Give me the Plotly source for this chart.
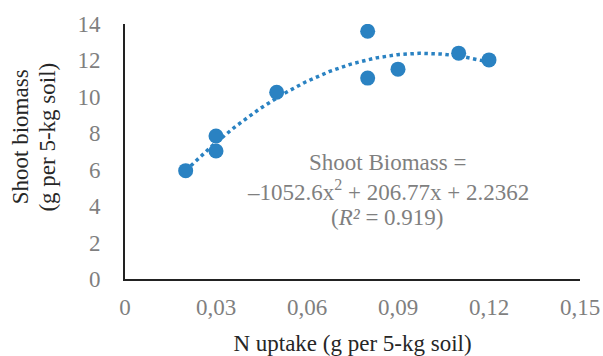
import numpy as np
import plotly.graph_objects as go

# Data
n_uptake = [0.02, 0.03, 0.03, 0.05, 0.08, 0.08, 0.09, 0.11, 0.12]
shoot_biomass = [5.95, 7.85, 7.03, 10.25, 13.6, 11.03, 11.52, 12.4, 12.03]

# Trendline coefficients (as printed on chart)
coef_a, coef_b, coef_c = -1052.6, 206.77, 2.2362

x_tickvals = [0, 0.03, 0.06, 0.09, 0.12, 0.15]
x_ticktext = ["0", "0,03", "0,06", "0,09", "0,12", "0,15"]
y_tickvals = [0, 2, 4, 6, 8, 10, 12, 14]

eq_lines = ["Shoot Biomass =",
            "–1052.6x<sup>2</sup> + 206.77x + 2.2362",
            "(<i>R²</i> = 0.919)"]
y_title_lines = ["Shoot biomass", "(g per 5-kg soil)"]

blue = "#2A82C2"
gray = "#7F7F7F"
dark = "#262626"
font_family = "Liberation Serif, Times New Roman, serif"

tx = np.linspace(min(n_uptake), max(n_uptake), 200)
ty = coef_a * tx**2 + coef_b * tx + coef_c

fig = go.Figure()
fig.add_trace(go.Scatter(x=tx, y=ty, mode="lines",
                         line=dict(color=blue, width=3.5, dash="dot"),
                         hoverinfo="skip", showlegend=False))
fig.add_trace(go.Scatter(x=n_uptake, y=shoot_biomass, mode="markers",
                         marker=dict(color=blue, size=15),
                         showlegend=False))

for txt, yy in zip(eq_lines, [6.37, 4.88, 3.40]):
    fig.add_annotation(x=0.0867, y=yy, xref="x", yref="y", text=txt,
                       showarrow=False, xanchor="center", yanchor="middle",
                       font=dict(family=font_family, size=23, color=gray))

for txt, xx in zip(y_title_lines, [-0.228, -0.170]):
    fig.add_annotation(x=xx, y=0.557, xref="paper", yref="paper", text=txt,
                       showarrow=False, textangle=-90,
                       xanchor="center", yanchor="middle",
                       font=dict(family=font_family, size=23, color=dark))

fig.update_layout(
    width=603, height=356,
    margin=dict(l=125, r=23, t=24, b=77),
    paper_bgcolor="white", plot_bgcolor="white",
    font=dict(family=font_family, color=gray, size=23),
    xaxis=dict(
        range=[0, 0.15], tickvals=x_tickvals, ticktext=x_ticktext,
        showgrid=False, zeroline=False, showline=True, automargin=False,
        linecolor="#222222", linewidth=2, ticks="", ticklabelstandoff=6,
        tickfont=dict(size=23, color=gray),
        title=dict(text="N uptake (g per 5-kg soil)",
                   font=dict(size=23, color=dark), standoff=20),
    ),
    yaxis=dict(
        range=[0, 14], tickvals=y_tickvals,
        showgrid=False, zeroline=False, showline=True, automargin=False,
        linecolor="#222222", linewidth=2, ticks="", ticklabelstandoff=18,
        tickfont=dict(size=23, color=gray),
    ),
)

# remove the default page margin so the figure fills the window exactly
fig.write_html("out.html",
               config={"displayModeBar": False},
               post_script="document.body.style.margin='0';"
                           "document.body.style.overflow='hidden';")
